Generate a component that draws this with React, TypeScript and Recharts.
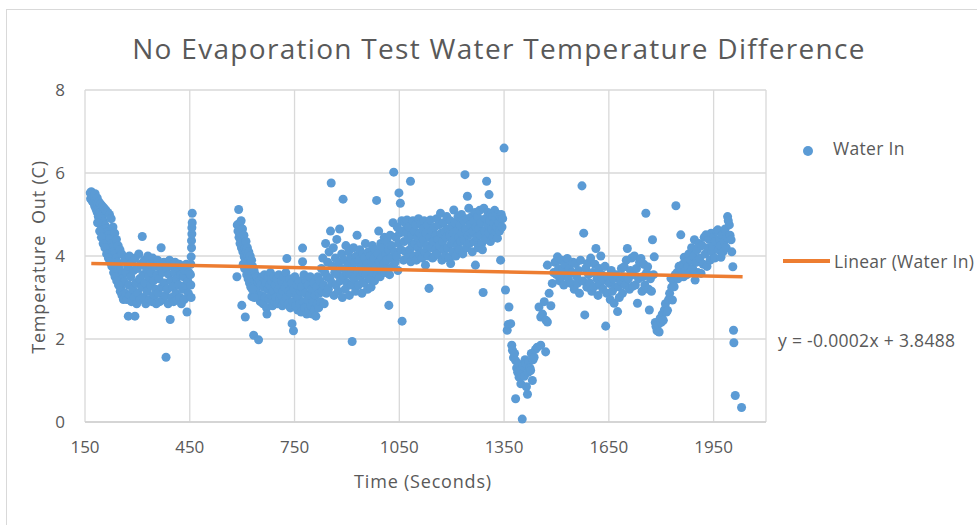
import { CartesianGrid, Scatter, ScatterChart, XAxis, YAxis, ZAxis } from 'recharts';

// axis ticks
const xTicks = [150, 450, 750, 1050, 1350, 1650, 1950];
const yTicks = [0, 2, 4, 6, 8];

// Water In readings [time (s), temperature difference (C)] in stretches
const dropStart = [
  [165, 5.52], [166, 5.38], [168, 5.55], [169, 5.45], [171, 5.32], [172, 5.5], [174, 5.4], [175, 5.28],
  [177, 5.46], [178, 5.2], [180, 5.35], [182, 5.12], [183, 5.3], [185, 5.05], [186, 5.22], [188, 4.95],
  [190, 5.15], [191, 4.85], [193, 5.05], [195, 4.78], [196, 4.98], [198, 4.7], [200, 4.9], [202, 4.6],
  [203, 4.82], [205, 4.5], [207, 4.75], [208, 4.42], [210, 4.65], [212, 4.35], [214, 4.58], [215, 4.25],
  [217, 4.5], [219, 4.15], [221, 4.42], [222, 4.05], [224, 4.3], [226, 3.95], [228, 4.2], [230, 3.85],
  [231, 4.1], [233, 3.75], [235, 4.05], [237, 3.65], [239, 3.95], [240, 3.55], [242, 3.85], [244, 3.45],
  [246, 3.75], [248, 3.35], [250, 3.65], [252, 3.25], [254, 3.55], [256, 3.15], [258, 3.45], [260, 3.05],
  [262, 3.38],
  [179, 5.5], [185, 5.4], [190, 5.3], [195, 5.25], [200, 5.2], [205, 5.15], [210, 5.1], [215, 5.05],
  [220, 5.0], [225, 4.9], [230, 4.7], [235, 4.55], [240, 4.4], [245, 4.25], [250, 4.15], [255, 4.05],
  [186, 4.8], [192, 4.6], [197, 4.45], [202, 4.3], [207, 4.2], [212, 4.05], [217, 3.95], [222, 3.85],
  [227, 3.75], [232, 3.6], [236, 3.5], [241, 3.4], [246, 3.3], [251, 3.15], [256, 3.05], [260, 2.95],
];

const firstBlock = [
  [264, 3.9], [266, 3.1], [268, 3.6], [270, 2.95], [272, 3.75], [274, 2.55], [275, 3.3], [277, 4.0],
  [279, 3.05], [281, 3.5], [283, 2.9], [285, 3.85], [287, 3.2], [289, 3.65], [291, 3.0], [293, 2.55],
  [294, 3.95], [296, 3.35], [298, 2.85], [300, 3.7], [302, 3.1], [304, 4.05], [306, 3.45], [308, 2.95],
  [310, 3.8], [312, 3.25], [314, 4.47], [316, 3.55], [318, 3.0], [320, 3.9], [322, 3.35], [324, 2.85],
  [326, 3.7], [328, 3.15], [330, 4.0], [332, 3.5], [334, 2.95], [336, 3.8], [338, 3.3], [340, 3.6],
  [342, 2.9], [344, 3.95], [346, 3.4], [348, 3.05], [350, 3.75], [352, 3.2], [354, 2.85], [356, 3.55],
  [358, 3.9], [360, 3.1], [362, 3.45], [364, 2.9], [366, 3.7], [368, 4.2], [370, 3.25], [372, 3.6],
  [374, 2.95], [376, 3.85], [378, 3.35], [380, 3.05], [382, 1.56], [384, 3.7], [386, 3.2], [388, 2.85],
  [390, 3.55], [392, 3.9], [394, 2.47], [396, 3.4], [398, 3.0], [400, 3.75], [402, 3.25], [404, 2.9],
  [406, 3.6], [408, 3.85], [410, 3.1], [412, 3.45], [414, 2.95], [416, 3.7], [418, 3.3], [420, 3.8],
  [422, 3.0], [424, 3.55], [426, 2.85], [428, 3.75], [430, 3.2], [432, 3.5], [434, 2.95], [436, 3.65],
  [438, 3.3], [440, 3.8], [442, 2.65], [444, 3.4], [446, 3.1], [448, 3.6], [452, 3.55], [453, 3.8],
  [454, 3.98], [455, 4.2], [455, 4.37], [456, 4.53], [456, 4.68], [457, 4.8], [457, 5.03], [453, 3.3],
  [454, 3.0],
];

const secondDrop = [
  [585, 3.5], [586, 4.75], [588, 4.6], [590, 5.12], [591, 4.45], [593, 4.79], [594, 4.3], [596, 4.55],
  [598, 4.2], [599, 2.81], [600, 4.4], [602, 4.1], [604, 4.3], [606, 3.98], [608, 4.2], [609, 2.53],
  [610, 3.9], [612, 4.1], [614, 3.8], [616, 4.0], [618, 3.7], [620, 3.92], [622, 3.6], [624, 3.85],
  [626, 3.5], [628, 3.02], [630, 3.75], [632, 3.4], [633, 2.09], [634, 3.65], [636, 3.3], [638, 3.55],
  [640, 3.2], [642, 3.5], [644, 3.1], [646, 3.45], [647, 1.98], [648, 3.0], [650, 3.4], [652, 2.9],
  [654, 3.3], [656, 3.05], [658, 3.5], [660, 2.85], [662, 3.25], [664, 3.55], [666, 3.0], [668, 3.35],
  [670, 2.75], [671, 2.6], [673, 3.2], [675, 3.5], [677, 2.95], [679, 3.3], [681, 3.6], [683, 3.05],
  [685, 3.4], [687, 2.8], [689, 3.15], [691, 3.5], [693, 2.9], [695, 3.3], [697, 3.0], [699, 3.45],
  [701, 2.85], [703, 3.2], [705, 3.55], [707, 2.95], [709, 3.3], [711, 3.05], [713, 3.4], [715, 2.8],
  [717, 3.15], [719, 3.5], [721, 2.9], [723, 3.25], [725, 3.6], [727, 3.0], [728, 3.94], [730, 3.35],
  [732, 2.85], [734, 3.15], [736, 3.45], [738, 2.75], [740, 3.1], [742, 3.35], [743, 2.37], [745, 2.9],
  [747, 2.2], [749, 3.2], [751, 3.5], [753, 2.8], [755, 3.05], [757, 3.3], [759, 2.7], [761, 3.0],
  [763, 3.4], [765, 2.85], [767, 3.15], [769, 2.65], [771, 3.25], [773, 4.19], [773, 3.86], [775, 2.9],
  [777, 3.55], [779, 2.75], [781, 3.1], [783, 3.4], [785, 2.6], [787, 2.95], [789, 3.3], [791, 2.7],
  [793, 3.05], [795, 3.5], [797, 2.8], [799, 3.2], [801, 2.6], [803, 2.9], [805, 3.35], [807, 2.7],
  [809, 3.05], [811, 2.55], [813, 3.25], [815, 2.85], [817, 3.5], [819, 2.75], [821, 3.1],
  [597, 4.85], [601, 4.65], [605, 4.5], [611, 4.35], [615, 4.2], [619, 4.1], [623, 4.0], [627, 3.9],
  [603, 3.8], [607, 3.7], [613, 3.55], [617, 3.45], [621, 3.35], [625, 3.25], [629, 3.2], [635, 3.0],
];

const climb = [
  [823, 3.4], [825, 2.9], [827, 3.7], [829, 3.15], [831, 3.95], [833, 3.3], [835, 2.85], [837, 3.6],
  [839, 4.3], [841, 3.1], [843, 3.5], [845, 3.85], [847, 3.2], [849, 4.1], [851, 3.45], [853, 4.6],
  [855, 5.76], [857, 3.35], [859, 3.75], [861, 4.2], [863, 3.05], [865, 3.6], [867, 3.95], [869, 3.3],
  [871, 4.4], [873, 3.55], [875, 3.15], [877, 3.85], [879, 4.65], [881, 3.4], [883, 3.7], [885, 4.05],
  [887, 3.0], [889, 5.37], [891, 3.5], [893, 3.9], [895, 3.2], [897, 4.25], [899, 3.6], [901, 3.35],
  [903, 3.8], [905, 4.1], [907, 3.05], [909, 3.55], [911, 3.95], [913, 3.3], [915, 1.94], [917, 3.7],
  [919, 4.2], [921, 3.45], [923, 3.85], [925, 3.15], [927, 4.0], [929, 4.5], [931, 3.6], [933, 3.3],
  [935, 3.9], [937, 4.15], [939, 3.5], [941, 3.75], [943, 3.1], [945, 4.05], [947, 3.6], [949, 3.35],
  [951, 3.95], [953, 4.3], [955, 3.55], [957, 3.8], [959, 3.2], [961, 4.1], [963, 3.7], [965, 3.45],
  [967, 4.0], [969, 3.25], [971, 3.85], [973, 4.25], [975, 3.6], [977, 3.95], [979, 3.4], [981, 4.15],
  [983, 3.75], [985, 5.34], [987, 3.55], [989, 4.05], [991, 4.6], [993, 3.85], [995, 3.5], [997, 4.3],
  [999, 3.95], [1001, 3.65], [1003, 4.2], [1005, 3.8], [1007, 4.45], [1009, 3.6], [1011, 4.05], [1013, 3.9],
  [1015, 4.35], [1017, 3.7], [1019, 4.15], [1020, 2.81], [1022, 3.55], [1024, 4.5], [1026, 3.95], [1028, 4.25],
  [1030, 3.75], [1032, 4.8], [1034, 6.02], [1036, 4.1], [1038, 3.85], [1040, 4.45], [1042, 4.0], [1044, 4.7],
  [1046, 3.65], [1048, 4.3], [1049, 5.52], [1051, 4.55], [1053, 5.27], [1055, 4.15], [1057, 4.85], [1058, 2.43],
];

const highBand = [
  [1060, 4.6], [1062, 3.9], [1064, 4.35], [1066, 4.8], [1068, 4.1], [1070, 4.55], [1072, 4.87], [1074, 3.95],
  [1076, 4.4], [1078, 4.7], [1080, 4.15], [1082, 5.8], [1083, 3.86], [1085, 4.5], [1087, 4.25], [1089, 4.85],
  [1091, 4.0], [1093, 4.6], [1095, 4.3], [1097, 4.75], [1099, 3.9], [1101, 4.45], [1103, 4.2], [1105, 4.9],
  [1107, 4.05], [1109, 4.55], [1111, 4.79], [1113, 4.3], [1115, 3.95], [1117, 4.65], [1119, 4.4], [1121, 4.85],
  [1123, 4.1], [1125, 3.78], [1127, 4.55], [1129, 4.25], [1131, 4.75], [1133, 4.0], [1135, 3.22], [1137, 4.45],
  [1139, 4.87], [1141, 4.2], [1143, 4.6], [1145, 3.95], [1147, 4.35], [1149, 3.98], [1151, 4.7], [1153, 4.15],
  [1155, 4.5], [1157, 4.9], [1159, 4.05], [1161, 4.4], [1163, 4.75], [1165, 4.25], [1168, 5.03], [1170, 4.55],
  [1172, 3.9], [1174, 4.35], [1176, 4.8], [1178, 4.15], [1180, 4.6], [1182, 4.0], [1184, 4.45], [1186, 4.95],
  [1188, 4.2], [1190, 4.65], [1192, 3.95], [1194, 4.5], [1196, 4.85], [1197, 3.82], [1199, 4.3], [1201, 4.7],
  [1203, 4.1], [1205, 4.55], [1206, 5.11], [1208, 4.4], [1210, 4.8], [1212, 4.0], [1214, 4.6], [1216, 4.25],
  [1218, 4.95], [1220, 4.45], [1222, 4.15], [1224, 4.75], [1226, 4.35], [1228, 5.0], [1230, 4.55], [1232, 4.05],
  [1234, 4.85], [1236, 4.4], [1238, 5.96], [1240, 4.65], [1242, 4.2], [1244, 4.9], [1245, 5.44], [1247, 4.5],
  [1249, 5.15], [1251, 4.3], [1253, 4.75], [1255, 4.55], [1257, 4.95], [1259, 4.1], [1261, 4.6], [1263, 4.85],
  [1265, 4.35], [1267, 5.05], [1268, 3.78], [1270, 4.7], [1272, 4.45], [1274, 4.95], [1276, 4.2], [1278, 4.65],
  [1280, 5.1], [1282, 4.5], [1284, 4.8], [1286, 4.3], [1288, 4.15], [1290, 3.12], [1292, 5.15], [1294, 4.6],
  [1296, 4.9], [1298, 4.4], [1300, 5.8], [1302, 4.75], [1304, 5.05], [1306, 4.55], [1307, 5.48], [1309, 4.85],
  [1311, 4.35], [1313, 5.0], [1315, 4.65], [1317, 4.95], [1319, 4.45], [1321, 4.79], [1323, 5.1], [1325, 4.6],
  [1327, 4.9], [1329, 4.7], [1331, 4.43], [1333, 5.0], [1335, 4.8], [1337, 4.6], [1339, 4.95], [1340, 3.9],
  [1342, 5.0], [1344, 4.7], [1346, 4.9], [1350, 6.6],
];

const dip = [
  [1354, 3.18], [1359, 2.21], [1362, 2.35], [1364, 2.77], [1369, 2.37], [1372, 1.85], [1374, 1.73], [1377, 1.55],
  [1380, 1.65], [1383, 1.48], [1383, 0.56], [1386, 1.3], [1389, 1.2], [1391, 1.4], [1393, 1.08], [1396, 1.25],
  [1398, 0.92], [1400, 1.15], [1402, 0.07], [1405, 1.35], [1408, 1.1], [1410, 1.5], [1412, 1.4], [1414, 0.85],
  [1417, 0.67], [1419, 1.2], [1421, 1.45], [1424, 1.3], [1426, 1.24], [1428, 1.65], [1431, 1.0], [1433, 1.5],
  [1436, 1.56], [1440, 1.75], [1445, 1.8], [1450, 2.77], [1455, 1.85], [1455, 2.53], [1460, 2.6], [1465, 2.9],
  [1469, 1.69], [1470, 2.45], [1474, 2.41], [1474, 3.78], [1479, 3.1], [1484, 2.8],
];

const recovery = [
  [1488, 3.34], [1492, 3.6], [1496, 3.85], [1500, 3.55], [1503, 3.98], [1506, 3.7], [1509, 3.4], [1512, 3.5],
  [1515, 3.9], [1518, 3.65], [1521, 3.3], [1524, 3.8], [1527, 3.55], [1531, 3.94], [1534, 3.45], [1537, 3.7],
  [1541, 3.34], [1544, 3.6], [1548, 3.85], [1551, 3.2], [1555, 3.82], [1558, 3.5], [1560, 3.34], [1563, 3.65],
  [1566, 3.1], [1569, 3.9], [1573, 5.69], [1576, 3.4], [1578, 4.55], [1581, 2.58], [1584, 3.7], [1587, 3.25],
  [1589, 3.82], [1592, 3.55], [1595, 3.35], [1598, 3.95], [1601, 3.15], [1604, 3.6], [1608, 3.26], [1610, 3.8],
  [1613, 4.18], [1616, 3.45], [1619, 3.05], [1622, 3.7], [1625, 3.3], [1627, 4.0], [1630, 3.55], [1633, 3.2],
  [1636, 3.42], [1639, 3.75], [1641, 2.31], [1644, 3.1], [1647, 3.5], [1651, 3.34], [1654, 2.95], [1657, 3.65],
  [1660, 3.15], [1663, 3.45], [1665, 2.86], [1668, 3.25], [1671, 3.55], [1675, 2.66], [1677, 3.26], [1680, 3.0],
  [1683, 3.4], [1686, 3.7], [1689, 3.1], [1692, 3.5], [1694, 3.74], [1697, 3.3], [1700, 3.9], [1703, 4.18],
  [1706, 3.45], [1709, 3.2], [1712, 3.65], [1715, 3.95], [1718, 3.27], [1720, 3.55], [1723, 4.0], [1726, 3.3],
  [1729, 3.7], [1732, 2.86], [1735, 3.45], [1738, 3.85], [1742, 3.94], [1745, 3.15], [1747, 3.5], [1750, 3.8],
  [1753, 3.3], [1756, 5.03], [1758, 3.6], [1761, 3.74], [1764, 3.2], [1766, 2.7], [1769, 3.45], [1772, 3.15],
  [1775, 4.39], [1778, 3.55], [1780, 3.98],
];

const finalRise = [
  [1783, 2.4], [1785, 2.3], [1788, 2.2], [1791, 2.35], [1794, 2.17], [1797, 2.5], [1800, 2.4], [1803, 2.6],
  [1806, 2.45], [1809, 2.7], [1812, 2.85], [1815, 2.65], [1818, 2.69], [1821, 2.95], [1824, 3.1], [1828, 3.46],
  [1830, 3.25], [1832, 2.94], [1835, 3.4], [1837, 3.26], [1840, 3.55], [1842, 5.21], [1845, 3.6], [1848, 3.45],
  [1851, 3.75], [1853, 3.55], [1856, 4.51], [1859, 3.65], [1862, 3.8], [1864, 3.5], [1866, 3.97], [1869, 3.65],
  [1872, 3.85], [1874, 3.55], [1876, 3.74], [1879, 4.05], [1882, 3.6], [1885, 3.9], [1887, 4.2], [1890, 3.7],
  [1893, 4.0], [1895, 4.39], [1897, 3.42], [1900, 3.85], [1903, 4.15], [1905, 3.6], [1908, 4.3], [1911, 3.95],
  [1914, 3.58], [1917, 4.25], [1920, 3.8], [1923, 4.45], [1926, 4.05], [1928, 4.51], [1931, 3.75], [1934, 4.2],
  [1937, 4.4], [1940, 3.9], [1943, 4.55], [1945, 4.1], [1947, 4.23], [1950, 4.45], [1953, 3.95], [1956, 4.35],
  [1959, 4.6], [1962, 4.63], [1964, 4.15], [1967, 4.4], [1969, 4.25], [1971, 3.97], [1974, 4.5], [1977, 4.1],
  [1980, 4.35], [1983, 4.65], [1986, 4.2], [1988, 4.45], [1990, 4.95], [1992, 4.85], [1995, 4.75], [1997, 4.5],
  [2000, 4.39], [2002, 4.1], [2005, 3.74], [2007, 2.21], [2008, 1.91], [2012, 0.64], [2030, 0.35],
];

// linear trendline end points (y = -0.0002x + 3.8488)
const trendX = [168, 2033];
const trendY = [3.82, 3.5];

const waterIn = [
  ...dropStart, ...firstBlock, ...secondDrop, ...climb, ...highBand, ...dip, ...recovery, ...finalRise,
].map(([x, y]) => ({ x, y }));
const trend = trendX.map((x, i) => ({ x, y: trendY[i] }));

const blue = '#5B9BD5';
const orange = '#ED7D31';
const textGrey = '#595959';
const font = '"Open Sans", sans-serif';

const legendText = { position: 'absolute', fontSize: 17.5, letterSpacing: 0.3, lineHeight: '22px' } as const;

export default function App() {
  return (
    <div
      style={{
        position: 'absolute',
        left: 0,
        top: 0,
        width: 977,
        height: 525,
        overflow: 'hidden',
        background: '#fff',
        fontFamily: font,
        color: textGrey,
      }}
    >
      <div
        style={{
          position: 'absolute',
          left: 6,
          top: 9,
          width: 1200,
          height: 800,
          border: '1px solid #d9d9d9',
        }}
      />
      <div
        style={{
          position: 'absolute',
          left: 0,
          top: 30,
          width: 998,
          textAlign: 'center',
          fontSize: 28,
          letterSpacing: 1.3,
          lineHeight: '36px',
        }}
      >
        No Evaporation Test Water Temperature Difference
      </div>

      <ScatterChart
        width={977}
        height={525}
        margin={{ top: 90, right: 211, bottom: 73, left: 0 }}
        style={{ position: 'absolute', left: 0, top: 0 }}
      >
        <CartesianGrid stroke="#d9d9d9" strokeWidth={1.3} />
        <XAxis
          type="number"
          dataKey="x"
          domain={[150, 2100]}
          ticks={xTicks}
          allowDataOverflow
          height={30}
          tickLine={false}
          tickMargin={13}
          axisLine={{ stroke: '#d0d0d0', strokeWidth: 1.3 }}
          tick={{ fill: textGrey, fontSize: 17, fontFamily: font }}
        />
        <YAxis
          type="number"
          dataKey="y"
          domain={[0, 8]}
          ticks={yTicks}
          width={85}
          axisLine={false}
          tickLine={false}
          tickMargin={14}
          tick={{ fill: textGrey, fontSize: 17, fontFamily: font }}
        />
        <ZAxis range={[80, 80]} />
        <Scatter data={waterIn} fill={blue} isAnimationActive={false} />
        <Scatter
          data={trend}
          line={{ stroke: orange, strokeWidth: 3.5 }}
          shape={() => <g />}
          isAnimationActive={false}
        />
      </ScatterChart>

      <div
        style={{
          position: 'absolute',
          left: 323,
          top: 470,
          width: 200,
          textAlign: 'center',
          fontSize: 18,
          letterSpacing: 0.8,
          lineHeight: '22px',
        }}
      >
        Time (Seconds)
      </div>
      <div
        style={{
          position: 'absolute',
          left: 38 - 120,
          top: 257 - 11,
          width: 240,
          textAlign: 'center',
          fontSize: 18,
          letterSpacing: 0.8,
          lineHeight: '22px',
          transform: 'rotate(-90deg)',
        }}
      >
        Temperature&nbsp; Out (C)
      </div>

      <div
        style={{
          position: 'absolute',
          left: 803,
          top: 146,
          width: 10,
          height: 10,
          borderRadius: '50%',
          background: blue,
        }}
      />
      <div style={{ ...legendText, left: 833, top: 137 }}>Water In</div>
      <div
        style={{
          position: 'absolute',
          left: 783,
          top: 259,
          width: 47,
          height: 4,
          background: orange,
        }}
      />
      <div style={{ ...legendText, left: 834, top: 250 }}>Linear (Water In)</div>
      <div style={{ ...legendText, left: 778, top: 329 }}>y = -0.0002x + 3.8488</div>
    </div>
  );
}
